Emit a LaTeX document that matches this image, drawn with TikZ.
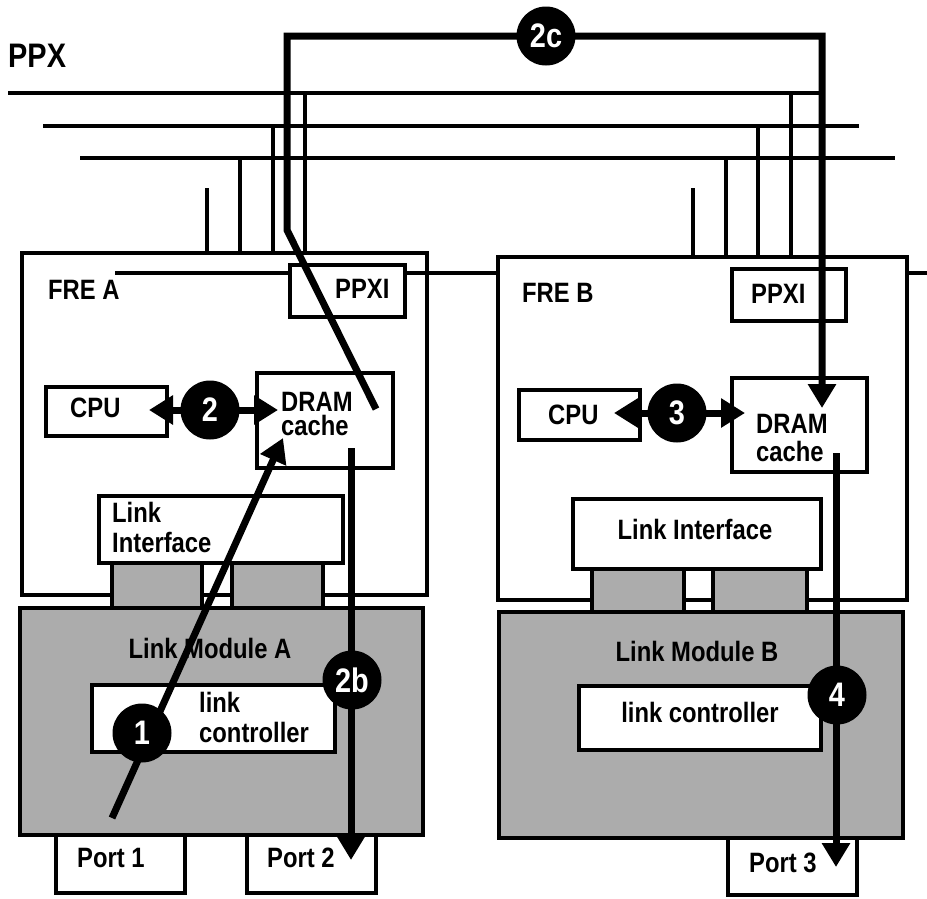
\documentclass[tikz,border=0pt]{standalone}
\usepackage{fontspec}
\setmainfont{Liberation Sans}[FakeStretch=0.85]
\usetikzlibrary{arrows.meta}
\definecolor{halftone}{RGB}{172,172,172}
\begin{document}
\begin{tikzpicture}[x=1pt,y=-1pt,
  bus/.style={line width=4.5pt},
  box/.style={draw, line width=4.5pt, fill=white, inner sep=0pt, outer sep=0pt, anchor=north west},
  graybox/.style={box, fill=halftone},
  lbl/.style={inner sep=0pt, anchor=base west, font=\fontsize{28}{30}\selectfont\bfseries},
  clbl/.style={lbl, anchor=base},
  numc/.style={circle, fill=black, text=white, minimum size=59pt, inner sep=0pt,
    font=\fontsize{34}{36}\selectfont\bfseries},
  flow/.style={line width=7pt, line join=miter},
  tip/.style={-{Triangle[length=24pt,width=27pt]}},
  dtip/.style={{Triangle[length=24pt,width=28pt]}-{Triangle[length=24pt,width=28pt]}}
]
\useasboundingbox (0,0) rectangle (927,898);
\fill[white] (0,0) rectangle (927,898);

% PPX label and bus
\node[lbl, font=\fontsize{34}{36}\selectfont\bfseries] (ppx) at (8,67) {PPX};
\coordinate (b1l) at (8,93);   \coordinate (b1r) at (820,93);
\coordinate (b2l) at (43,126); \coordinate (b2r) at (859,126);
\coordinate (b3l) at (80,158); \coordinate (b3r) at (895,158);
\draw[bus] (b1l) -- (b1r);
\draw[bus] (b2l) -- (b2r);
\draw[bus] (b3l) -- (b3r);
% drops
\draw[bus] (207,188) -- (207,253);
\draw[bus] (240,158) -- (240,253);
\draw[bus] (273,126) -- (273,253);
\draw[bus] (305,93) -- (305,253);
\draw[bus] (693,188) -- (693,257);
\draw[bus] (726,158) -- (726,257);
\draw[bus] (758,126) -- (758,257);
\draw[bus] (791,93) -- (791,257);

% FRE A
\node[box, minimum width=405pt, minimum height=342pt] (freA) at (22,253) {};
\coordinate (hl) at (115,273); \coordinate (hr) at (927,273);
\draw[bus] (hl) -- (hr);
\node[box, minimum width=115pt, minimum height=52pt] (ppxiA) at (290,265) {};
% FRE B
\node[box, minimum width=409pt, minimum height=343pt] (freB) at (498,257) {};
\node[box, minimum width=114pt, minimum height=52pt] (ppxiB) at (732,269) {};

\node[lbl] (freAt) at (48,299) {FRE A};
\node[lbl] (ppxiAt) at (335,298) {PPXI};
\node[lbl] (freBt) at (522,302) {FRE B};
\node[lbl] (ppxiBt) at (751,303) {PPXI};

% CPU and DRAM
\node[box, minimum width=121pt, minimum height=49pt] (cpuA) at (46,387) {};
\node[lbl] (cpuAt) at (70,417) {CPU};
\node[box, minimum width=136pt, minimum height=95pt] (dramA) at (257,373) {};
\node[lbl, align=left, font=\fontsize{28}{24}\selectfont\bfseries] (dramAt) at (281,435) {DRAM\\cache};
\node[box, minimum width=121pt, minimum height=50pt] (cpuB) at (519,390) {};
\node[lbl] (cpuBt) at (548,424) {CPU};
\node[box, minimum width=135pt, minimum height=94pt] (dramB) at (732,378) {};
\node[lbl, align=left, font=\fontsize{28}{28}\selectfont\bfseries] (dramBt) at (756,461) {DRAM\\cache};

% Link interfaces
\node[box, minimum width=244pt, minimum height=67pt] (liA) at (99,496) {};
\node[lbl] (liAt1) at (112,522) {Link};
\node[lbl] (liAt2) at (112,552) {Interface};
\node[box, minimum width=248pt, minimum height=70pt] (liB) at (573,499) {};
\node[clbl] (liBt) at (695,539) {Link Interface};

% Link modules
\node[graybox, minimum width=403pt, minimum height=227pt] (lmA) at (20,608) {};
\node[graybox, minimum width=404pt, minimum height=226pt] (lmB) at (499,612) {};
% connectors
\node[graybox, minimum width=90pt, minimum height=45pt] (cA1) at (112,563) {};
\node[graybox, minimum width=91pt, minimum height=45pt] (cA2) at (232,563) {};
\node[graybox, minimum width=92pt, minimum height=43pt] (cB1) at (592,569) {};
\node[graybox, minimum width=94pt, minimum height=43pt] (cB2) at (713,569) {};

\node[clbl] (lmAt) at (210,658) {Link Module A};
\node[clbl] (lmBt) at (697,661) {Link Module B};

% link controllers
\node[box, minimum width=243pt, minimum height=67pt] (lcA) at (92,685) {};
\node[lbl] (lcAt1) at (199,712) {link};
\node[lbl] (lcAt2) at (199,742) {controller};
\node[box, minimum width=242pt, minimum height=64pt] (lcB) at (579,686) {};
\node[clbl] (lcBt) at (700,722) {link controller};

% ports
\node[box, minimum width=129pt, minimum height=58pt] (p1) at (56,835) {};
\node[lbl] (p1t) at (77,867) {Port 1};
\node[box, minimum width=129pt, minimum height=58pt] (p2) at (247,835) {};
\node[lbl] (p2t) at (267,867) {Port 2};
\node[box, minimum width=129pt, minimum height=57pt] (p3) at (728,838) {};
\node[lbl] (p3t) at (749,872) {Port 3};

% flows
\coordinate (f2cs) at (376,409);
\coordinate (f2ca) at (287,230);
\coordinate (f2cb) at (287,36);
\coordinate (f2cc) at (822,36);
\coordinate (f2ce) at (822,408);
\draw[flow, tip] (f2cs) -- (f2ca) -- (f2cb) -- (f2cc) -- (f2ce);

\coordinate (f1s) at (112,818);
\coordinate (f1e) at (283,438);
\draw[flow, tip] (f1s) -- (f1e);

\coordinate (f2bs) at (351,448);
\coordinate (f2be) at (351,860);
\draw[flow, tip] (f2bs) -- (f2be);

\coordinate (f4s) at (836,453);
\coordinate (f4e) at (836,867);
\draw[flow, tip] (f4s) -- (f4e);

\coordinate (d2l) at (149,410); \coordinate (d2r) at (278,410);
\draw[flow, dtip] (d2l) -- (d2r);
\coordinate (d3l) at (614,413); \coordinate (d3r) at (745,413);
\draw[flow, dtip] (d3l) -- (d3r);

% numbered circles
\node[numc] (n1) at (142,733) {1};
\node[numc] (n2) at (210,410) {2};
\node[numc] (n2b) at (352,680) {2b};
\node[numc] (n2c) at (546,36) {2c};
\node[numc] (n3) at (677,413) {3};
\node[numc] (n4) at (837,695) {4};
\end{tikzpicture}
\end{document}
